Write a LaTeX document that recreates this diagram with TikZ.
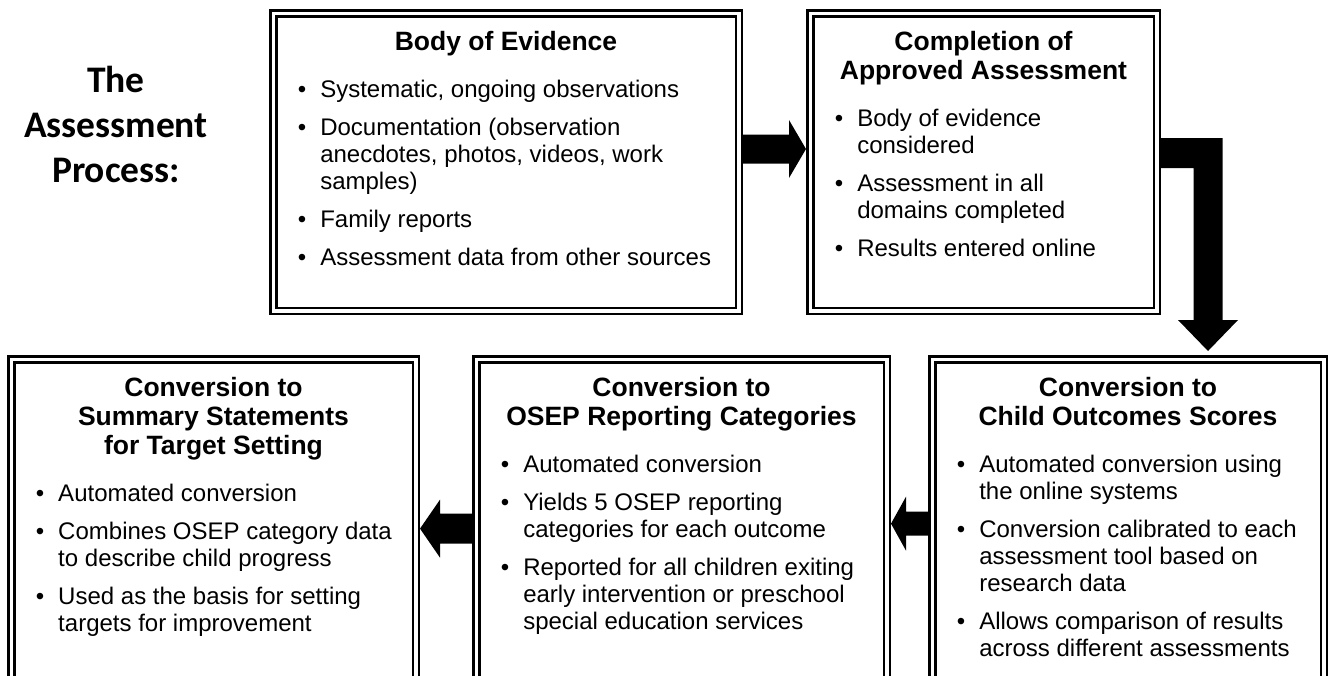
\documentclass[tikz,border=0pt]{standalone}
\usepackage{fontspec}
\setmainfont{Liberation Sans}
\newfontfamily\calibri{Carlito}
\usepackage{enumitem}
\usetikzlibrary{positioning, calc}

\setlist[itemize]{label=\textbullet, leftmargin=47pt, labelsep=14pt,
  topsep=20pt, partopsep=0pt, itemsep=11pt, parsep=0pt}

\newcommand{\stagebox}[4]{\parbox[c][#2][t]{#1}{\fontsize{24}{27}\selectfont
  {\bfseries\fontsize{26.5}{29}\selectfont\centering\rule{0pt}{37pt}#3\par}
  \raggedright\begin{itemize}#4\end{itemize}}}

\begin{document}
\begin{tikzpicture}[
            x=1pt, y=-1pt,
            stage/.style={draw, double, line width=2.5pt, double distance=3.5pt,
                          inner sep=0pt, outer sep=4.25pt}]
            \useasboundingbox (0,0) rectangle (1331,675);

            \node [font=\calibri\bfseries\fontsize{37.5}{45}\selectfont, align=center,
                   anchor=north, inner sep=0pt] (title) at (116,66) {The\\Assessment\\Process:};

            \node [stage] (evid) at (506,162) {\stagebox{465.5pt}{297.5pt}{Body of Evidence}{
                \item Systematic, ongoing observations
                \item Documentation (observation\\anecdotes, photos, videos, work\\samples)
                \item Family reports
                \item Assessment data from other sources}};
            \node [stage] (compl) [right=63pt of evid] {\stagebox{346.5pt}{297.5pt}{Completion of\\Approved Assessment}{
                \item Body of evidence\\considered
                \item Assessment in all\\domains completed
                \item Results entered online}};
            \node [stage, anchor=north] (child) at (1128,355) {\stagebox{391.5pt}{340.75pt}{Conversion to\\Child Outcomes Scores}{
                \item Automated conversion using\\the online systems
                \item Conversion calibrated to each\\assessment tool based on\\research data
                \item Allows comparison of results\\across different assessments}};
            \node [stage] (osep) [left=37pt of child] {\stagebox{410.5pt}{340.75pt}{Conversion to\\OSEP Reporting Categories}{
                \item Automated conversion
                \item Yields 5 OSEP reporting\\categories for each outcome
                \item Reported for all children exiting\\early intervention or preschool\\special education services}};
            \node [stage] (summ) [left=52pt of osep] {\stagebox{404.5pt}{340.75pt}{Conversion to\\Summary Statements\\for Target Setting}{
                \item Automated conversion
                \item Combines OSEP category data\\to describe child progress
                \item Used as the basis for setting\\targets for improvement}};

            % block arrows
            \coordinate (a1) at ($(evid.east)+(0,-13)$);
            \fill ($(a1)+(0,-14.5)$) -- ($(compl.west |- a1)+(-17,-14.5)$) -- ($(compl.west |- a1)+(-17,-29)$)
                  -- (compl.west |- a1) -- ($(compl.west |- a1)+(-17,29)$) -- ($(compl.west |- a1)+(-17,14.5)$)
                  -- ($(a1)+(0,14.5)$) -- cycle;

            \coordinate (b1) at ($(compl.east)+(0,-9)$);
            \coordinate (b2) at ($(child.north)+(80,-4)$);
            \fill ($(b1)+(0,-15)$) -- ($(b2 |- b1)+(14.5,-15)$) -- ($(b2)+(14.5,-31)$) -- ($(b2)+(30,-31)$)
                  -- (b2) -- ($(b2)+(-30,-31)$) -- ($(b2)+(-14.5,-31)$) -- ($(b2 |- b1)+(-14.5,15)$)
                  -- ($(b1)+(0,15)$) -- cycle;

            \coordinate (c1) at ($(child.west)+(0,-6)$);
            \fill ($(c1)+(0,-12)$) -- ($(osep.east |- c1)+(15,-12)$) -- ($(osep.east |- c1)+(15,-27)$)
                  -- (osep.east |- c1) -- ($(osep.east |- c1)+(15,27)$) -- ($(osep.east |- c1)+(15,12)$)
                  -- ($(c1)+(0,12)$) -- cycle;

            \coordinate (d1) at ($(osep.west)+(0,-1)$);
            \fill ($(d1)+(0,-15)$) -- ($(summ.east |- d1)+(20,-15)$) -- ($(summ.east |- d1)+(20,-29)$)
                  -- (summ.east |- d1) -- ($(summ.east |- d1)+(20,29)$) -- ($(summ.east |- d1)+(20,15)$)
                  -- ($(d1)+(0,15)$) -- cycle;

        \end{tikzpicture}
\end{document}
